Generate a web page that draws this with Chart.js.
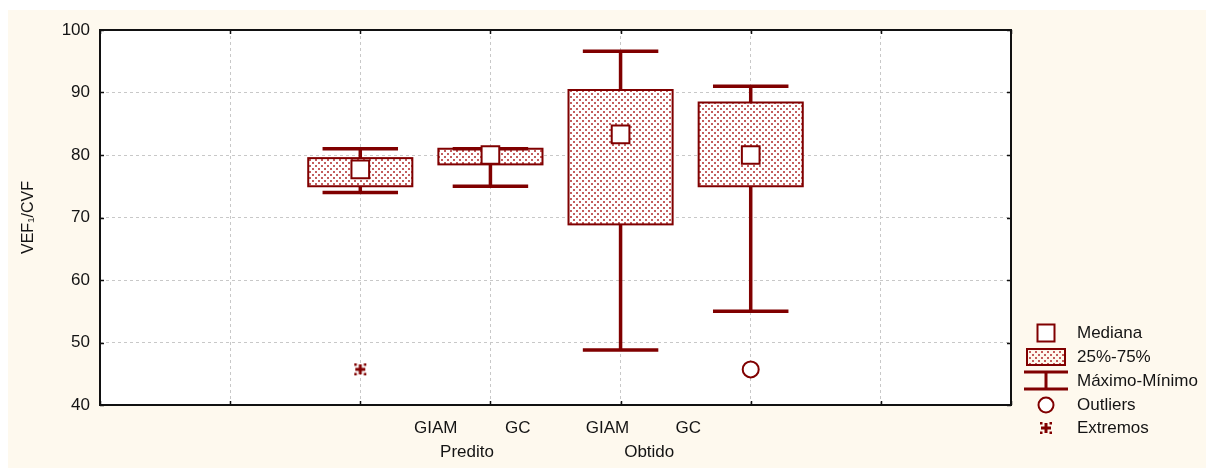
<!DOCTYPE html>
<html>
<head>
<meta charset="utf-8">
<script src="https://cdn.jsdelivr.net/npm/chart.js@4/dist/chart.umd.min.js"></script>
<style>
  html, body { margin: 0; padding: 0; background: #ffffff; }
  canvas { display: block; }
</style>
</head>
<body>
<canvas id="c" width="1206" height="468"></canvas>
<script>
// Groups and categories along the x axis
const groups = ['Predito', 'Obtido'];
const categories = ['GIAM', 'GC', 'GIAM', 'GC'];

// Box statistics for VEF1/CVF, one entry per category
const medians = [77.7, 80.0, 83.3, 80.0];
const q1 = [75.0, 78.5, 68.9, 75.0];
const q3 = [79.5, 81.0, 90.4, 88.4];
const minima = [74.0, 75.0, 48.8, 55.0];
const maxima = [81.0, 81.0, 96.6, 91.0];
const outliers = [null, null, null, 45.7];
const extremes = [45.7, null, null, null];

// Y axis ticks
const yTicks = [40, 50, 60, 70, 80, 90, 100];

const legendLabels = ['Mediana', '25%-75%', 'Máximo-Mínimo', 'Outliers', 'Extremos'];

const RED = '#800000';
const TEXT = '#141414';
const CREAM = '#fef9ee';
const FONT = '"Liberation Sans", Arial, sans-serif';

// two empty slots are left on each side of the boxes
const slotOf = i => i + 2;

// dotted fill used for the interquartile boxes
function makePattern() {
  const t = document.createElement('canvas');
  t.width = 6; t.height = 6;
  const g = t.getContext('2d');
  g.fillStyle = 'rgba(175,40,40,0.75)';
  g.fillRect(0, 0, 2, 2);
  g.fillRect(3, 3, 2, 2);
  return document.getElementById('c').getContext('2d').createPattern(t, 'repeat');
}
const boxFill = makePattern();

// "extreme" marker: a cross with four corner dots
function makeExtremeMarker() {
  const m = document.createElement('canvas');
  m.width = 14; m.height = 14;
  const g = m.getContext('2d');
  g.fillStyle = RED;
  g.fillRect(2, 5.5, 10, 3);
  g.fillRect(5.5, 2, 3, 10);
  g.fillRect(1, 1, 2.5, 2.5);
  g.fillRect(10.5, 1, 2.5, 2.5);
  g.fillRect(1, 10.5, 2.5, 2.5);
  g.fillRect(10.5, 10.5, 2.5, 2.5);
  return m;
}
const extremeMarker = makeExtremeMarker();

const pts = arr => arr.map((v, i) => v == null ? null : { x: slotOf(i), y: v }).filter(p => p);

// page background, chart area and frame
const backdrop = {
  id: 'backdrop',
  beforeDraw(chart) {
    const { ctx, chartArea: a } = chart;
    ctx.save();
    ctx.fillStyle = '#ffffff';
    ctx.fillRect(0, 0, chart.width, chart.height);
    ctx.fillStyle = CREAM;
    ctx.fillRect(8, 10, chart.width - 8, chart.height - 10);
    ctx.fillStyle = '#ffffff';
    ctx.fillRect(a.left, a.top, a.right - a.left, a.bottom - a.top);
    ctx.restore();
  },
  afterDraw(chart) {
    const { ctx, chartArea: a, scales } = chart;
    ctx.save();
    ctx.strokeStyle = '#111111';
    ctx.lineWidth = 2;
    ctx.strokeRect(a.left, a.top, a.right - a.left, a.bottom - a.top);
    ctx.lineWidth = 1.5;
    ctx.beginPath();
    scales.x.ticks.forEach(t => {
      const px = Math.round(scales.x.getPixelForValue(t.value)) + 0.5;
      ctx.moveTo(px, a.top); ctx.lineTo(px, a.top + 4);
      ctx.moveTo(px, a.bottom); ctx.lineTo(px, a.bottom - 4);
    });
    scales.y.ticks.forEach(t => {
      const py = Math.round(scales.y.getPixelForValue(t.value)) + 0.5;
      ctx.moveTo(a.left, py); ctx.lineTo(a.left + 4, py);
      ctx.moveTo(a.right, py); ctx.lineTo(a.right - 4, py);
    });
    ctx.stroke();
    ctx.restore();
  }
};

// interquartile boxes and min-max whiskers
const boxes = {
  id: 'boxes',
  beforeDatasetsDraw(chart) {
    const { ctx, scales: { x, y } } = chart;
    ctx.save();
    categories.forEach((_, i) => {
      const c = x.getPixelForValue(slotOf(i));
      const l = x.getPixelForValue(slotOf(i) - 0.4);
      const r = x.getPixelForValue(slotOf(i) + 0.4);
      const top = y.getPixelForValue(q3[i]);
      const bot = y.getPixelForValue(q1[i]);
      ctx.fillStyle = '#ffffff';
      ctx.fillRect(l, top, r - l, bot - top);
      ctx.fillStyle = boxFill;
      ctx.fillRect(l, top, r - l, bot - top);
      ctx.strokeStyle = RED;
      ctx.lineWidth = 2;
      ctx.strokeRect(l, top, r - l, bot - top);

      const cl = x.getPixelForValue(slotOf(i) - 0.29);
      const cr = x.getPixelForValue(slotOf(i) + 0.29);
      const hi = y.getPixelForValue(maxima[i]);
      const lo = y.getPixelForValue(minima[i]);
      ctx.lineWidth = 3.5;
      ctx.beginPath();
      if (hi < top) { ctx.moveTo(c, top); ctx.lineTo(c, hi); }
      if (lo > bot) { ctx.moveTo(c, bot); ctx.lineTo(c, lo); }
      ctx.moveTo(cl, hi); ctx.lineTo(cr, hi);
      ctx.moveTo(cl, lo); ctx.lineTo(cr, lo);
      ctx.stroke();
    });
    ctx.restore();
  }
};

// category and group labels under the axis
const xLabels = {
  id: 'xLabels',
  afterDraw(chart) {
    const { ctx, scales: { x } } = chart;
    const catSlots = [2.58, 3.21, 3.9, 4.52];
    const groupSlots = [2.82, 4.22];
    ctx.save();
    ctx.fillStyle = TEXT;
    ctx.font = '17px ' + FONT;
    ctx.textAlign = 'center';
    ctx.textBaseline = 'middle';
    categories.forEach((t, i) => ctx.fillText(t, x.getPixelForValue(catSlots[i]), 428));
    groups.forEach((t, i) => ctx.fillText(t, x.getPixelForValue(groupSlots[i]), 452));
    ctx.restore();
  }
};

// key to the symbols, right of the plot
const keyPanel = {
  id: 'keyPanel',
  afterDraw(chart) {
    const { ctx } = chart;
    const cx = 1046, tx = 1077;
    const rows = [333, 357, 381, 405, 428];
    ctx.save();
    ctx.strokeStyle = RED;
    // median square
    ctx.fillStyle = '#ffffff';
    ctx.lineWidth = 2;
    ctx.fillRect(cx - 8.5, rows[0] - 8.5, 17, 17);
    ctx.strokeRect(cx - 8.5, rows[0] - 8.5, 17, 17);
    // box swatch
    ctx.fillStyle = boxFill;
    ctx.fillRect(cx - 19, rows[1] - 8, 38, 16);
    ctx.strokeRect(cx - 19, rows[1] - 8, 38, 16);
    // whisker glyph
    ctx.lineWidth = 3;
    ctx.beginPath();
    ctx.moveTo(cx - 22, rows[2] - 9); ctx.lineTo(cx + 22, rows[2] - 9);
    ctx.moveTo(cx, rows[2] - 9); ctx.lineTo(cx, rows[2] + 8);
    ctx.moveTo(cx - 22, rows[2] + 8); ctx.lineTo(cx + 22, rows[2] + 8);
    ctx.stroke();
    // outlier circle
    ctx.lineWidth = 2;
    ctx.fillStyle = '#ffffff';
    ctx.beginPath();
    ctx.arc(cx, rows[3], 7.5, 0, Math.PI * 2);
    ctx.fill(); ctx.stroke();
    // extreme marker
    ctx.drawImage(extremeMarker, cx - 7, rows[4] - 7);

    ctx.fillStyle = TEXT;
    ctx.font = '17px ' + FONT;
    ctx.textBaseline = 'middle';
    legendLabels.forEach((t, i) => ctx.fillText(t, tx, rows[i]));
    ctx.restore();
  }
};

new Chart(document.getElementById('c'), {
  type: 'scatter',
  data: {
    datasets: [
      {
        label: legendLabels[0],
        data: pts(medians),
        pointStyle: 'rect',
        pointRadius: 12.5,
        borderWidth: 2,
        borderColor: RED,
        backgroundColor: '#ffffff'
      },
      {
        label: legendLabels[3],
        data: pts(outliers),
        pointStyle: 'circle',
        pointRadius: 8,
        borderWidth: 2,
        borderColor: RED,
        backgroundColor: '#ffffff'
      },
      {
        label: legendLabels[4],
        data: pts(extremes),
        pointStyle: extremeMarker,
        pointRadius: 7
      }
    ]
  },
  options: {
    responsive: false,
    devicePixelRatio: 1,
    animation: false,
    events: [],
    layout: { padding: { left: 0, top: 30, right: 195, bottom: 63 } },
    plugins: { legend: { display: false }, tooltip: { enabled: false } },
    scales: {
      x: {
        type: 'linear',
        min: 0, max: 7,
        ticks: { display: false, stepSize: 1 },
        grid: { color: '#c8c8c8', lineWidth: 1, drawTicks: false },
        border: { display: false, dash: [3, 3] },
        afterFit(s) { s.height = 0; }
      },
      y: {
        min: 40, max: 100,
        afterBuildTicks(s) { s.ticks = yTicks.map(v => ({ value: v })); },
        ticks: { color: TEXT, padding: 10, font: { family: FONT, size: 17 } },
        grid: { color: '#c8c8c8', lineWidth: 1, drawTicks: false },
        border: { display: false, dash: [3, 3] },
        title: {
          display: true,
          text: 'VEF\u2081/CVF',
          color: TEXT,
          font: { family: FONT, size: 16 },
          padding: { top: 19, bottom: 0 }
        },
        afterFit(s) { s.width = 100; }
      }
    }
  },
  plugins: [backdrop, boxes, xLabels, keyPanel]
});
</script>
</body>
</html>
